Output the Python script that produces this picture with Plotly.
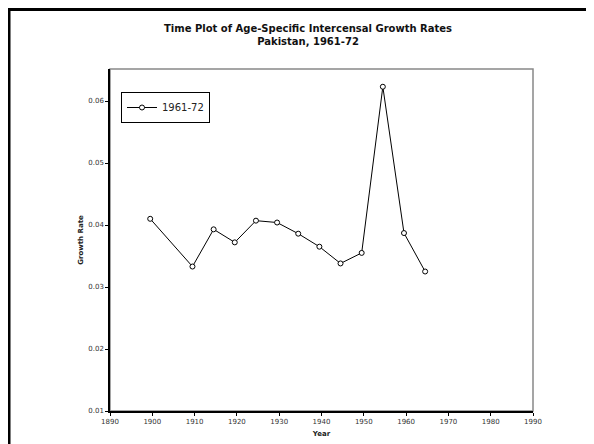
import plotly.graph_objects as go

years = [1899.5, 1909.5, 1914.5, 1919.5, 1924.5, 1929.5, 1934.5,
         1939.5, 1944.5, 1949.5, 1954.5, 1959.5, 1964.5]
rates = [0.0410, 0.0333, 0.0393, 0.0372, 0.0407, 0.0404, 0.0386,
         0.0365, 0.0338, 0.0355, 0.0623, 0.0387, 0.0325]
series_name = "1961-72"
x_ticks = list(range(1890, 1991, 10))
y_ticks = [0.01, 0.02, 0.03, 0.04, 0.05, 0.06]

# page body has an 8px margin, so the figure is drawn offset by 8px
OFF = 8
W, H = 594 - OFF, 444 - OFF
L, T = 110 - OFF, 69 - OFF
R = W - (533 - OFF)
B = 33
pw, ph = W - L - R, H - T - B

def px(xs):
    return (xs - OFF - L) / pw

def py(ys):
    return 1 - (ys - OFF - T) / ph

FONT = "DejaVu Sans"

fig = go.Figure()
fig.add_trace(go.Scatter(
    x=years, y=rates, name=series_name, mode="lines+markers",
    line=dict(color="black", width=1),
    marker=dict(symbol="circle", size=5, color="white",
                line=dict(color="black", width=1)),
    showlegend=True,
))

fig.update_layout(
    width=W, height=H, autosize=False,
    margin=dict(l=L, r=R, t=T, b=B, autoexpand=False),
    paper_bgcolor="white", plot_bgcolor="white",
    font=dict(family=FONT, color="#333333", size=7),
    xaxis=dict(range=[1890, 1990], tickvals=x_ticks,
               ticktext=[str(v) for v in x_ticks],
               showgrid=False, zeroline=False, automargin=False,
               showline=True, linecolor="black", linewidth=1.5,
               ticks="outside", ticklen=3, tickcolor="black", tickwidth=1,
               tickfont=dict(size=7, color="#333333"),
               title=dict(text="<b>Year</b>", font=dict(size=7, color="#222222"),
                          standoff=6)),
    yaxis=dict(range=[0.01, 0.01 + ph / 6200.0], tickvals=y_ticks,
               ticktext=[f"{v:.2f}" for v in y_ticks],
               showgrid=False, zeroline=False, automargin=False,
               showline=True, linecolor="black", linewidth=1.5,
               ticks="outside", ticklen=3, tickcolor="black", tickwidth=1,
               tickfont=dict(size=7, color="#333333"),
               title=dict(text="<b>Growth Rate</b>", font=dict(size=7, color="#222222"),
                          standoff=4)),
    legend=dict(x=px(121), y=py(107.5), xanchor="left", yanchor="middle",
                bordercolor="black", borderwidth=1, bgcolor="white",
                font=dict(size=10, color="#222222", family=FONT),
                itemwidth=30, tracegroupgap=0),
    shapes=[
        dict(type="rect", xref="paper", yref="paper", x0=0, x1=1, y0=0, y1=1,
             line=dict(color="#888888", width=1.5), layer="below"),
        dict(type="rect", xref="paper", yref="paper",
             x0=px(9), x1=px(660), y0=py(500), y1=py(9.5),
             line=dict(color="black", width=3)),
    ],
    annotations=[
        dict(text="<b>Time Plot of Age-Specific Intercensal Growth Rates<br>Pakistan, 1961-72</b>",
             xref="paper", yref="paper", x=px(308), y=py(34.5),
             xanchor="center", yanchor="middle", showarrow=False,
             font=dict(size=10, color="#111111", family=FONT)),
    ],
)

fig.write_html("out.html")
